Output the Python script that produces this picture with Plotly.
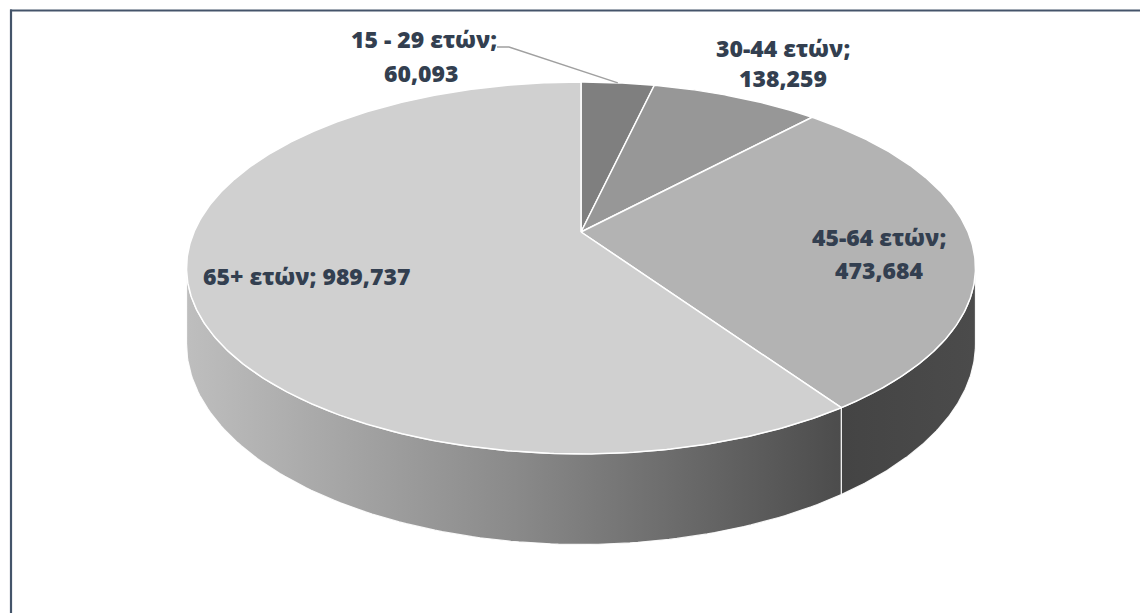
import numpy as np
import plotly.graph_objects as go

# ---- data ----
categories = ["15 - 29 ετών", "30-44 ετών", "45-64 ετών", "65+ ετών"]
values = [60093, 138259, 473684, 989737]
value_text = ["60,093", "138,259", "473,684", "989,737"]

# ---- styles ----
top_colors = ["#7f7f7f", "#979797", "#b3b3b3", "#d0d0d0"]
side_scales = {
    2: [[0, "#444444"], [1, "#4b4b4b"]],
    3: [[0, "#bebebe"], [0.5, "#8a8a8a"], [1, "#4c4c4c"]],
}
label_color = "#333F50"
label_font = "Open Sans"

# projection of the (tilted, perspective) pie into pixel space
CX, CY = 581.0, 232.0
A, B, K = 387.0, 179.0, 0.1935
H = 73.0


def proj(theta_deg):
    th = np.radians(theta_deg)
    u = np.sin(th)
    v = np.cos(th)
    s = 1.0 / (1.0 + K * v)
    return CX + A * u * s, CY - B * v * s, s


total = float(sum(values))
fracs = [v / total for v in values]
bounds = [0.0]
for f in fracs:
    bounds.append(bounds[-1] + f * 360.0)

th_r = np.degrees(np.arccos(-K))
th_l = 360.0 - th_r

fig = go.Figure()

# side walls
for i in range(len(values)):
    lo = max(bounds[i], th_r)
    hi = min(bounds[i + 1], th_l)
    if hi <= lo:
        continue
    t = np.linspace(lo, hi, 120)
    x, y, s = proj(t)
    xb = x[::-1]
    yb = (y + H * s)[::-1]
    xs = np.concatenate([x, xb, x[:1]])
    ys = np.concatenate([y, yb, y[:1]])
    fig.add_trace(go.Scatter(
        x=xs, y=ys, mode="lines", fill="toself",
        fillgradient=dict(type="horizontal", colorscale=side_scales.get(i, [[0, "#555"], [1, "#555"]])),
        line=dict(color="rgba(255,255,255,0.9)", width=1.2),
        hoverinfo="skip", showlegend=False))

# top faces
for i in range(len(values)):
    t = np.linspace(bounds[i], bounds[i + 1], max(4, int((bounds[i + 1] - bounds[i]) * 2)))
    x, y, s = proj(t)
    xs = np.concatenate([[CX], x, [CX]])
    ys = np.concatenate([[CY], y, [CY]])
    fig.add_trace(go.Scatter(
        x=xs, y=ys, mode="lines", fill="toself", fillcolor=top_colors[i],
        line=dict(color="white", width=1.5),
        name=categories[i], hoverinfo="name", showlegend=False))

# leader line for first slice
mid0 = (bounds[0] + bounds[1]) / 2
px, py, _ = proj(mid0)
fig.add_trace(go.Scatter(
    x=[497, 509, px], y=[47, 47, py], mode="lines",
    line=dict(color="#a0a0a0", width=1.4), hoverinfo="skip", showlegend=False))

# labels (two lines each, except the last)
label_pos = [
    [(424, 39), (421, 73)],
    [(783, 48), (783, 78)],
    [(879, 237), (879, 270)],
    [(306, 276)],
]
annotations = []
for i, cat in enumerate(categories):
    if len(label_pos[i]) == 2:
        lines = [cat + ";", value_text[i]]
    else:
        lines = [cat + "; " + value_text[i]]
    for (lx, ly), txt in zip(label_pos[i], lines):
        annotations.append(dict(
            x=lx, y=ly, xref="x", yref="y", text=txt,
            showarrow=False, xanchor="center", yanchor="middle",
            font=dict(family=label_font, size=23, color=label_color, weight=800)))

frame = dict(color="#44546A", width=2.2)
fig.update_layout(
    width=1140, height=613,
    margin=dict(l=0, r=0, t=0, b=0),
    paper_bgcolor="white", plot_bgcolor="white",
    xaxis=dict(range=[0, 1140], visible=False, fixedrange=True),
    yaxis=dict(range=[613, 0], visible=False, fixedrange=True),
    annotations=annotations,
    shapes=[
        dict(type="line", xref="x", yref="y", x0=10, y0=10.5, x1=1140, y1=10.5, line=frame, layer="above"),
        dict(type="line", xref="x", yref="y", x0=11, y0=9.5, x1=11, y1=613, line=frame, layer="above"),
    ],
    showlegend=False,
)

fig.write_html(
    "out.html",
    config={"displayModeBar": False},
    post_script=(
        "document.documentElement.style.overflow='hidden';"
        "document.body.style.margin='0';document.body.style.overflow='hidden';"
    ),
)
